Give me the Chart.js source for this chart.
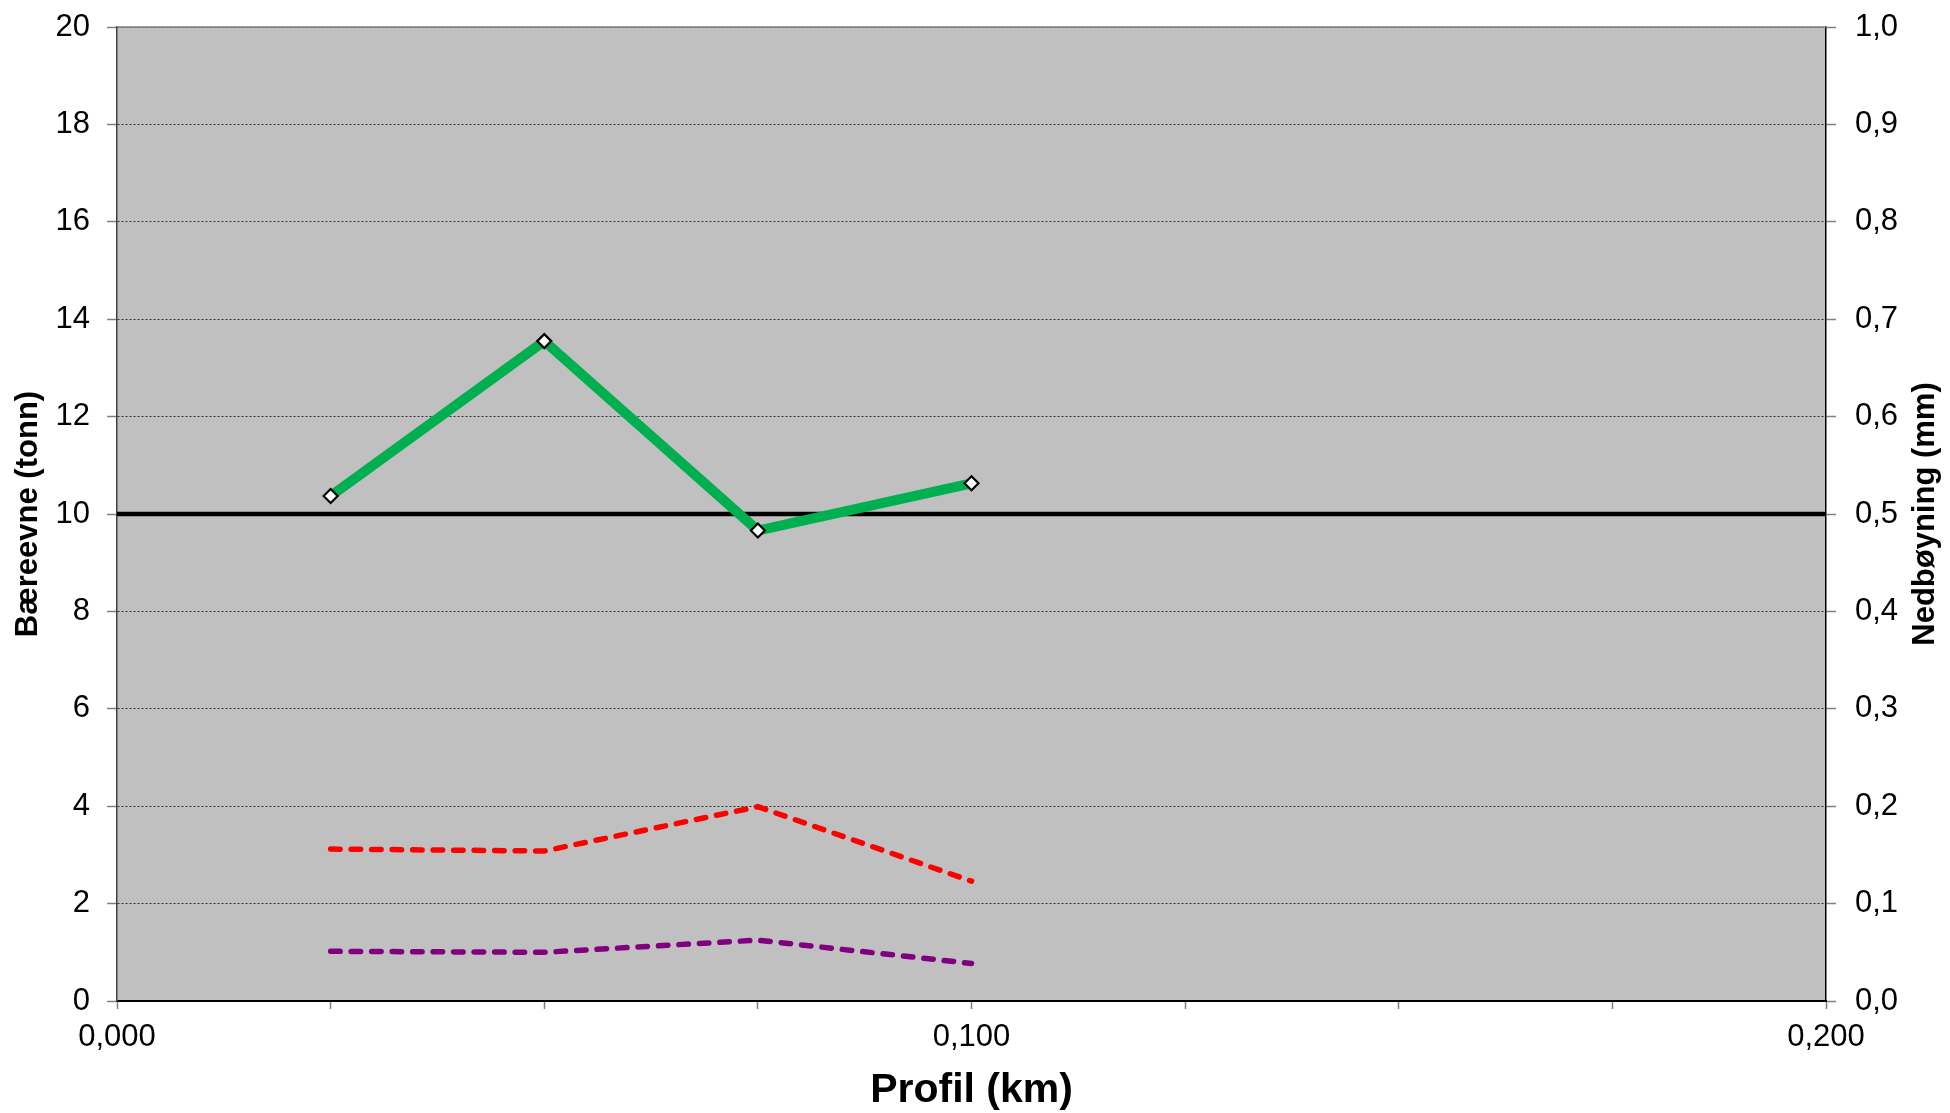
<!DOCTYPE html>
<html>
<head>
<meta charset="utf-8">
<title>Bæreevne</title>
<script src="https://cdn.jsdelivr.net/npm/chart.js@4.4.0/dist/chart.umd.min.js"></script>
<style>
  html, body { margin: 0; padding: 0; background: #fff; }
  #wrap { width: 1950px; height: 1113px; position: relative; }
</style>
</head>
<body>
<div id="wrap"><canvas id="chart"></canvas></div>
<script>
// profil (km) for each measuring point
const profil = [0.025, 0.05, 0.075, 0.1];
// bæreevne (tonn), left axis
const baereevne = [10.37, 13.55, 9.66, 10.63];
// nedbøyning (mm), right axis
const nedboyningRod = [0.156, 0.154, 0.1995, 0.123];
const nedboyningLilla = [0.051, 0.050, 0.0625, 0.0385];
// reference line at 10 tonn
const grenseX = [0, 0.2];
const grenseY = [10, 10];

const FONT = '"Liberation Sans", Arial, sans-serif';

function pairs(xs, ys) {
    return xs.map((x, i) => ({ x: x, y: ys[i] }));
}

// keep the plot box where the reference has it
function fixWidth(w) {
    return s => {
        s.width = w;
        s.paddingTop = 0;
        s.paddingBottom = 0;
    };
}

const plotBg = {
    id: 'plotBg',
    beforeDraw(chart) {
        const { ctx, chartArea: a } = chart;
        ctx.save();
        ctx.fillStyle = '#c0c0c0';
        ctx.fillRect(a.left, a.top, a.right - a.left, a.bottom - a.top);
        ctx.restore();
    },
    beforeDatasetsDraw(chart) {
        const { ctx, chartArea: a } = chart;
        ctx.save();
        ctx.strokeStyle = '#808080';
        ctx.lineWidth = 1.5;
        ctx.beginPath();
        ctx.moveTo(a.left, a.top);
        ctx.lineTo(a.right, a.top);
        ctx.stroke();
        ctx.restore();
    }
};

// right axis title reads bottom-to-top, like the left one
const rightTitle = {
    id: 'rightTitle',
    afterDraw(chart) {
        const { ctx, chartArea: a } = chart;
        ctx.save();
        ctx.translate(chart.width - 25, (a.top + a.bottom) / 2);
        ctx.rotate(-Math.PI / 2);
        ctx.font = 'bold 31px ' + FONT;
        ctx.fillStyle = '#000';
        ctx.textAlign = 'center';
        ctx.textBaseline = 'middle';
        ctx.fillText('Nedbøyning (mm)', 0, 0);
        ctx.restore();
    }
};

const ctx = document.getElementById('chart').getContext('2d');
new Chart(ctx, {
    type: 'line',
    data: {
        datasets: [
            {
                label: 'Bæreevne',
                data: pairs(profil, baereevne),
                yAxisID: 'y',
                borderColor: '#00b050',
                borderWidth: 10,
                pointStyle: 'rectRot',
                pointRadius: 7,
                pointBackgroundColor: '#fff',
                pointBorderColor: '#000',
                pointBorderWidth: 2.2,
                tension: 0
            },
            {
                label: 'Grense',
                data: pairs(grenseX, grenseY),
                yAxisID: 'y',
                borderColor: '#000',
                borderWidth: 4.5,
                pointRadius: 0
            },
            {
                label: 'Nedbøyning 1',
                data: pairs(profil, nedboyningRod),
                yAxisID: 'y2',
                borderColor: '#ff0000',
                borderWidth: 5.5,
                borderDash: [9.5, 11],
                borderCapStyle: 'round',
                pointRadius: 0
            },
            {
                label: 'Nedbøyning 2',
                data: pairs(profil, nedboyningLilla),
                yAxisID: 'y2',
                borderColor: '#800080',
                borderWidth: 5.5,
                borderDash: [9.5, 11],
                borderCapStyle: 'round',
                pointRadius: 0
            }
        ]
    },
    options: {
        responsive: true,
        maintainAspectRatio: false,
        animation: false,
        devicePixelRatio: 1,
        layout: { padding: { top: 27, left: 0, right: 0, bottom: 0 } },
        plugins: {
            legend: { display: false },
            tooltip: { enabled: false }
        },
        scales: {
            x: {
                type: 'linear',
                min: 0,
                max: 0.2,
                afterFit: s => { s.height = 112; },
                ticks: {
                    stepSize: 0.025,
                    autoSkip: false,
                    maxRotation: 0,
                    padding: 10,
                    color: '#000',
                    font: { family: FONT, size: 31 },
                    callback: v => Math.abs(v * 10 - Math.round(v * 10)) < 1e-6
                        ? v.toFixed(3).replace('.', ',') : ''
                },
                grid: { drawOnChartArea: false, tickLength: 8, tickColor: '#808080', tickWidth: 1.5 },
                border: { color: '#000', width: 2 },
                title: {
                    display: true,
                    text: 'Profil (km)',
                    color: '#000',
                    font: { family: FONT, size: 41, weight: 'bold', lineHeight: 1 },
                    padding: { top: 0, bottom: 1.5 }
                }
            },
            y: {
                position: 'left',
                min: 0,
                max: 20,
                afterFit: fixWidth(117),
                ticks: {
                    stepSize: 2,
                    padding: 17,
                    color: '#000',
                    font: { family: FONT, size: 31 }
                },
                grid: { color: '#333', lineWidth: 1, tickLength: 10, tickColor: '#808080', tickWidth: 1.5, tickBorderDash: [] },
                border: { color: '#404040', width: 1.5, dash: [2, 2] },
                title: {
                    display: true,
                    text: 'Bæreevne (tonn)',
                    color: '#000',
                    font: { family: FONT, size: 31, weight: 'bold', lineHeight: 1 },
                    padding: { top: 13, bottom: 0 }
                }
            },
            y2: {
                position: 'right',
                min: 0,
                max: 1,
                afterFit: fixWidth(124),
                ticks: {
                    stepSize: 0.1,
                    padding: 19,
                    color: '#000',
                    font: { family: FONT, size: 31 },
                    callback: v => v.toFixed(1).replace('.', ',')
                },
                grid: { drawOnChartArea: false, tickLength: 10, tickColor: '#808080', tickWidth: 1.5 },
                border: { color: '#000', width: 1.5 }
            }
        }
    },
    plugins: [plotBg, rightTitle]
});
</script>
</body>
</html>
